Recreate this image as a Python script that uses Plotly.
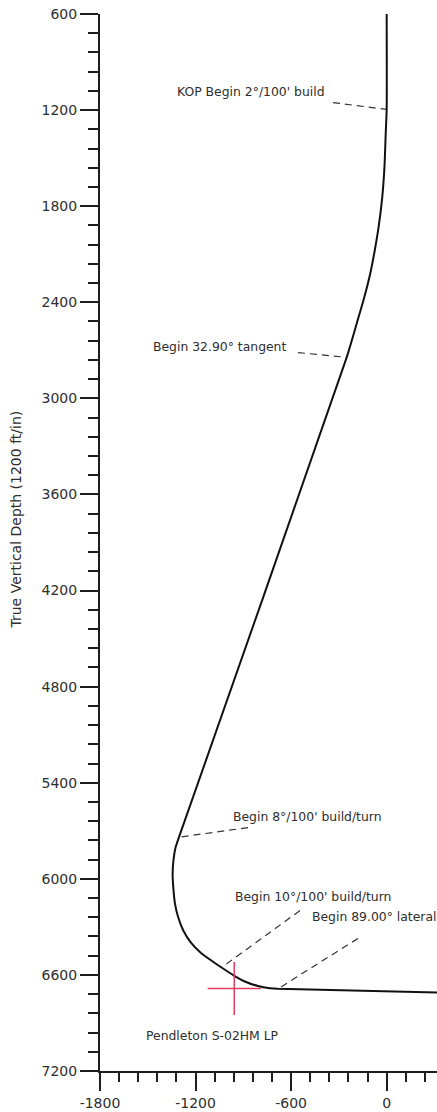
import plotly.graph_objects as go

# Well path (vertical section ft, true vertical depth ft)
path_vs = [0, 0, -6, -14, -28, -51, -75, -103, -141, -188, -251,
           -1304, -1325, -1339, -1344, -1340, -1329, -1309, -1277, -1229,
           -1166, -1097, -1037, -959, -883, -808, -733, -683, 316]
path_tvd = [600, 1196, 1346, 1558, 1746, 1933, 2077, 2220, 2370, 2532, 2744,
            5740, 5802, 5886, 5969, 6052, 6156, 6240, 6323, 6399,
            6463, 6513, 6554, 6604, 6644, 6669, 6683, 6687, 6710]

# Milestones (point on path) and their labels
ms_text = ["KOP Begin 2°/100' build", "Begin 32.90° tangent",
           "Begin 8°/100' build/turn", "Begin 10°/100' build/turn",
           "Begin 89.00° lateral"]
ms_vs = [0, -251, -1304, -1037, -683]
ms_tvd = [1196, 2744, 5740, 6554, 6687]
lead_vs = [-337, -557, -871, -544, -180]
lead_tvd = [1153, 2714, 5680, 6198, 6372]
lab_vs = [-852, -1052, -500, -462, -80]
lab_tvd = [1084, 2676, 5611, 6110, 6235]

# Target (landing point)
target_name = "Pendleton S-02HM LP"
target_vs = [-957]
target_tvd = [6685]
target_lab_vs = -1096
target_lab_tvd = 6978

# Axis ticks
x_tickvals = [-1800, -1200, -600, 0]
x_ticktext = ["-1800", "-1200", "-600", "0"]
y_tickvals = [600, 1200, 1800, 2400, 3000, 3600, 4200, 4800, 5400, 6000, 6600, 7200]
y_ticktext = ["600", "1200", "1800", "2400", "3000", "3600", "4200", "4800",
              "5400", "6000", "6600", "7200"]

x_range = [-1800, 316]
y_range = [7200, 600]

FONT = "DejaVu Sans"
TXT = "#2e2e2e"
AX = "#1e1e1e"

fig = go.Figure()

for i in range(len(ms_text)):
    fig.add_trace(go.Scatter(
        x=[lead_vs[i], ms_vs[i]], y=[lead_tvd[i], ms_tvd[i]],
        mode="lines", line=dict(color="#333333", width=1.2, dash="7px,5px"),
        hoverinfo="skip", showlegend=False))

fig.add_trace(go.Scatter(
    x=path_vs, y=path_tvd, mode="lines",
    line=dict(color="#111111", width=2, shape="spline", smoothing=0.6),
    showlegend=False))

fig.add_trace(go.Scatter(
    x=target_vs, y=target_tvd, mode="markers",
    marker=dict(symbol="cross-thin", size=38,
                line=dict(color="#e03c64", width=1.5)),
    showlegend=False))

for i in range(len(ms_text)):
    fig.add_annotation(x=lab_vs[i], y=lab_tvd[i], text=ms_text[i],
                       showarrow=False, xanchor="center", yanchor="middle",
                       font=dict(family=FONT, size=12.4, color=TXT))

fig.add_annotation(x=target_lab_vs, y=target_lab_tvd, text=target_name,
                   showarrow=False, xanchor="center", yanchor="middle",
                   font=dict(family=FONT, size=12.4, color=TXT))

fig.add_annotation(xref="paper", yref="paper", x=-0.249, y=0.5218,
                   text="True Vertical Depth (1200 ft/in)", textangle=-90,
                   showarrow=False, xanchor="center", yanchor="middle",
                   font=dict(family=FONT, size=14, color=TXT))

axis_common = dict(
    showgrid=False, zeroline=False, showline=True, linewidth=2,
    linecolor=AX, ticks="outside", tickwidth=2, tickcolor=AX,
    tickfont=dict(family=FONT, size=14, color=TXT), tickmode="array",
    automargin=False,
)

fig.update_xaxes(range=x_range, tickvals=x_tickvals, ticktext=x_ticktext, ticklen=18,
                 minor=dict(ticks="outside", ticklen=9, tickwidth=1.5, tickmode="linear",
                            tickcolor=AX, dtick=120, tick0=-1800, showgrid=False),
                 **axis_common)
fig.update_yaxes(range=y_range, tickvals=y_tickvals, ticktext=y_ticktext, ticklen=18,
                 minor=dict(ticks="outside", ticklen=10, tickwidth=1.5, tickmode="linear",
                            tickcolor=AX, dtick=120, tick0=600, showgrid=False),
                 **axis_common)

fig.update_layout(
    width=437, height=1112,
    margin=dict(l=100, r=0, t=14, b=41, pad=0),
    paper_bgcolor="white", plot_bgcolor="white",
    showlegend=False,
)

# remove the page's default body margin so the figure fills the window exactly
fig.write_html("out.html", config={"displayModeBar": False},
               post_script="document.body.style.margin='0';document.body.style.overflow='hidden';")
